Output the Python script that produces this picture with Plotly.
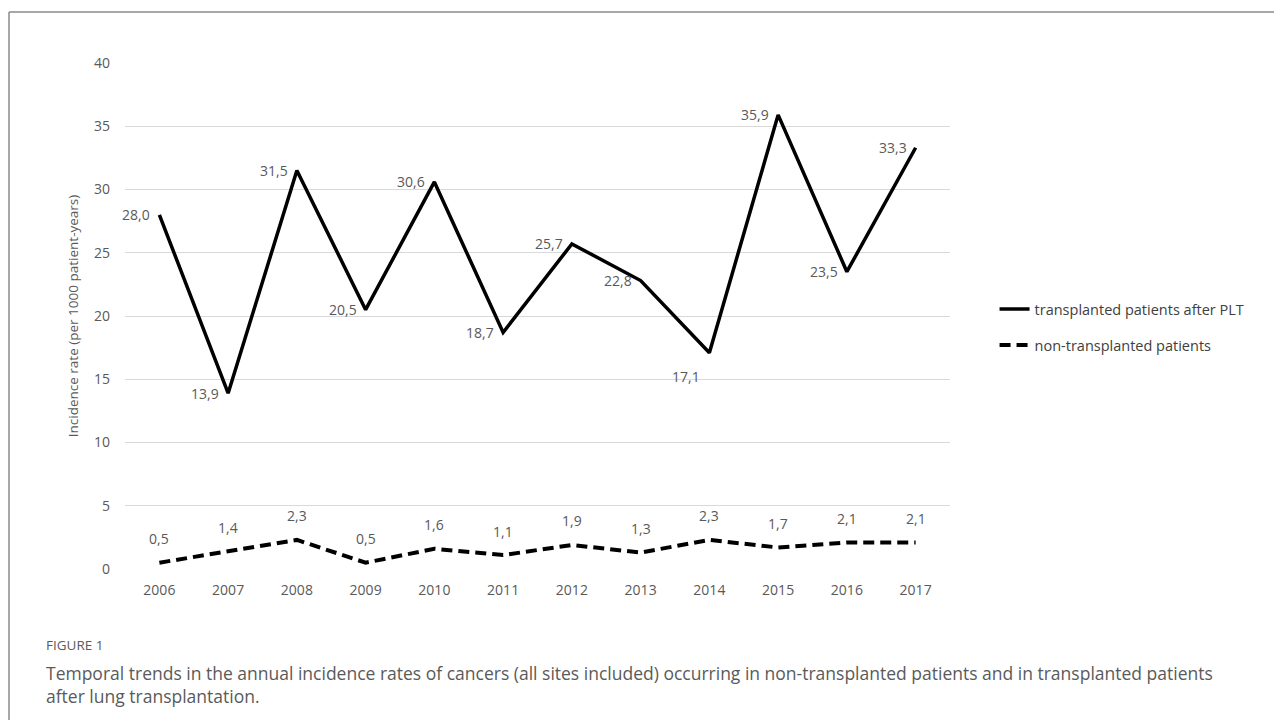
import plotly.graph_objects as go

# values
years = ['2006', '2007', '2008', '2009', '2010', '2011',
         '2012', '2013', '2014', '2015', '2016', '2017']
transplanted = [28.0, 13.9, 31.5, 20.5, 30.6, 18.7, 25.7, 22.8, 17.1, 35.9, 23.5, 33.3]
non_transplanted = [0.5, 1.4, 2.3, 0.5, 1.6, 1.1, 1.9, 1.3, 2.3, 1.7, 2.1, 2.1]
y_ticks = [0, 5, 10, 15, 20, 25, 30, 35, 40]

name_tx = 'transplanted patients after PLT'
name_non = 'non-transplanted patients'
caption_1 = ('Temporal trends in the annual incidence rates of cancers (all sites included) '
             'occurring in non-transplanted patients and in transplanted patients')
caption_2 = 'after lung transplantation.'

FONT = 'Open Sans'
GREY = '#595959'


def fmt(v):
    # decimal comma like the original
    return f'{v:.1f}'.replace('.', ',')


fig = go.Figure()
fig.add_trace(go.Scatter(x=years, y=transplanted, name=name_tx, mode='lines',
                         line=dict(color='black', width=3.5),
                         legendgroup='a'))
fig.add_trace(go.Scatter(x=years, y=non_transplanted, name=name_non, mode='lines',
                         line=dict(color='black', width=4, dash='11px,6px'),
                         legendgroup='b'))

annots = []
# category axis -> annotations placed by category index
for i, v in enumerate(transplanted):
    below = v == 17.1
    annots.append(dict(x=i, y=v, text=fmt(v), showarrow=False,
                       xanchor='right', yanchor='middle',
                       xshift=-7, yshift=-24 if below else 0,
                       font=dict(family=FONT, size=14, color=GREY)))
for i, v in enumerate(non_transplanted):
    annots.append(dict(x=i, y=v, text=fmt(v), showarrow=False,
                       xanchor='center', yanchor='middle', yshift=24,
                       font=dict(family=FONT, size=14, color=GREY)))

# caption under the chart
annots.append(dict(xref='paper', yref='paper', x=-0.0982, y=-0.150,
                   xanchor='left', yanchor='middle', showarrow=False,
                   text='FIGURE 1', font=dict(family=FONT, size=13.5, color='#5a5a5a')))
annots.append(dict(xref='paper', yref='paper', x=-0.0982, y=-0.228,
                   xanchor='left', yanchor='middle', align='left', showarrow=False,
                   text=caption_1 + '<br>' + caption_2,
                   font=dict(family=FONT, size=17.5, color='#5a5a5a')))

# page body has an 8px margin, so the figure is 8px smaller and shifted
fig.update_layout(
    width=1274, height=712,
    paper_bgcolor='white', plot_bgcolor='white',
    margin=dict(l=117, r=332, t=55, b=151),
    font=dict(family=FONT, color=GREY),
    annotations=annots,
    showlegend=True,
    legend=dict(x=1.054, y=0.478, xanchor='left', yanchor='middle',
                font=dict(family=FONT, size=14.5, color='#404040'),
                tracegroupgap=14, bgcolor='rgba(0,0,0,0)'),
    shapes=[
        dict(type='line', xref='paper', yref='paper', x0=-0.1406, x1=-0.1406,
             y0=1.1008, y1=-0.5, line=dict(color='#8a8a8a', width=1.5)),
        dict(type='line', xref='paper', yref='paper', x0=-0.1406, x1=1.6,
             y0=1.1008, y1=1.1008, line=dict(color='#8a8a8a', width=1.5)),
    ],
)

fig.update_xaxes(type='category', range=[-0.5, 11.5], showgrid=False,
                 showline=False, zeroline=False, ticks='',
                 ticklabelstandoff=11,
                 tickfont=dict(family=FONT, size=14, color=GREY))
fig.update_yaxes(range=[0, 40], tickvals=y_ticks, showgrid=True,
                 gridcolor='#d9d9d9', gridwidth=1, zeroline=False,
                 showline=False, ticks='', ticklabelstandoff=14,
                 tickfont=dict(family=FONT, size=14, color=GREY),
                 title=dict(text='Incidence rate (per 1000 patient-years)',
                            standoff=12,
                            font=dict(family=FONT, size=13.5, color=GREY)))

fig.write_html('out.html')
